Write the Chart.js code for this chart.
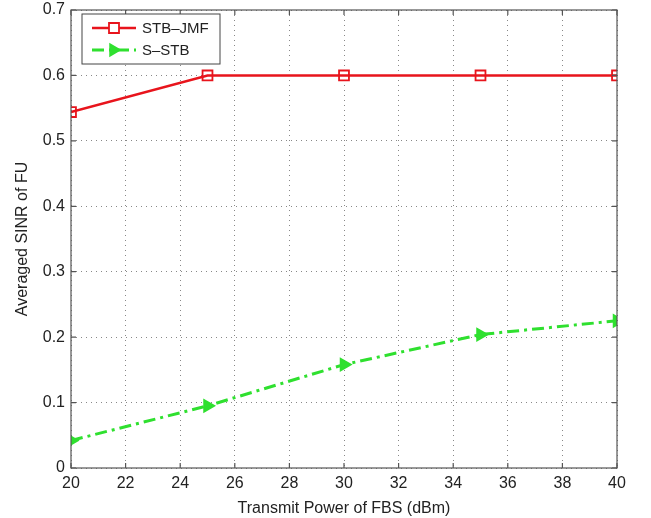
<!DOCTYPE html>
<html>
<head>
<meta charset="utf-8">
<script src="https://cdn.jsdelivr.net/npm/chart.js@4/dist/chart.umd.min.js"></script>
<style>
  html, body { margin: 0; padding: 0; background: #fff; }
  #wrap { width: 651px; height: 518px; }
</style>
</head>
<body>
<div id="wrap"><canvas id="sinrChart" width="651" height="518"></canvas></div>
<script>
// Dados
const potencias = [20, 25, 30, 35, 40];
const stbJmf   = [0.544, 0.600, 0.600, 0.600, 0.600];
const sStb     = [0.042, 0.095, 0.158, 0.204, 0.225];
const ticksX   = [20, 22, 24, 26, 28, 30, 32, 34, 36, 38, 40];
const ticksY   = [0, 0.1, 0.2, 0.3, 0.4, 0.5, 0.6, 0.7];

const FONTE = "'Liberation Sans', Arial, sans-serif";
const VERMELHO = '#e8141c';
const VERDE = '#2fe02f';

// Moldura, marcas de escala internas e legenda no estilo Matlab
const estiloMatlab = {
    id: 'estiloMatlab',
    afterDraw(chart) {
        const { ctx, chartArea: a, scales: { x, y } } = chart;
        ctx.save();
        ctx.strokeStyle = '#555';
        ctx.lineWidth = 1.2;
        ctx.strokeRect(a.left, a.top, a.right - a.left, a.bottom - a.top);
        ctx.beginPath();
        ticksX.forEach(v => {
            const px = x.getPixelForValue(v);
            ctx.moveTo(px, a.bottom); ctx.lineTo(px, a.bottom - 5);
            ctx.moveTo(px, a.top); ctx.lineTo(px, a.top + 5);
        });
        ticksY.forEach(v => {
            const py = y.getPixelForValue(v);
            ctx.moveTo(a.left, py); ctx.lineTo(a.left + 5, py);
            ctx.moveTo(a.right, py); ctx.lineTo(a.right - 5, py);
        });
        ctx.stroke();

        // legenda
        const lx = a.left + 11, ly = a.top + 4, lw = 138, lh = 50;
        ctx.fillStyle = '#fff';
        ctx.fillRect(lx, ly, lw, lh);
        ctx.strokeStyle = '#444';
        ctx.lineWidth = 1;
        ctx.strokeRect(lx, ly, lw, lh);
        ctx.font = '15px ' + FONTE;
        ctx.textBaseline = 'middle';
        chart.data.datasets.forEach((ds, i) => {
            const cy = ly + 14 + i * 22;
            ctx.strokeStyle = ds.borderColor;
            ctx.lineWidth = ds.borderWidth;
            ctx.setLineDash(ds.borderDash || []);
            ctx.beginPath();
            ctx.moveTo(lx + 10, cy); ctx.lineTo(lx + 54, cy);
            ctx.stroke();
            ctx.setLineDash([]);
            ctx.fillStyle = ds.pointBackgroundColor;
            ctx.strokeStyle = ds.borderColor;
            ctx.lineWidth = ds.pointBorderWidth;
            ctx.beginPath();
            if (ds.pointStyle === 'rect') {
                ctx.fillStyle = '#fff';
                ctx.rect(lx + 32 - 5, cy - 5, 10, 10);
                ctx.fill(); ctx.stroke();
            } else {
                ctx.moveTo(lx + 38, cy); ctx.lineTo(lx + 28, cy - 6); ctx.lineTo(lx + 28, cy + 6);
                ctx.closePath(); ctx.fill(); ctx.stroke();
            }
            ctx.fillStyle = '#222';
            ctx.fillText(ds.label, lx + 60, cy + 1);
        });
        ctx.restore();
    }
};

new Chart(document.getElementById('sinrChart').getContext('2d'), {
    type: 'line',
    data: {
        datasets: [
            {
                label: 'STB\u2013JMF',
                data: potencias.map((p, i) => ({ x: p, y: stbJmf[i] })),
                borderColor: VERMELHO,
                borderWidth: 2.5,
                pointStyle: 'rect',
                pointRadius: 7,
                pointBorderWidth: 1.8,
                pointBackgroundColor: 'rgba(255,255,255,0)',
                pointBorderColor: VERMELHO,
                tension: 0
            },
            {
                label: 'S\u2013STB',
                data: potencias.map((p, i) => ({ x: p, y: sStb[i] })),
                borderColor: VERDE,
                borderWidth: 3,
                borderDash: [12, 5, 3, 5],
                pointStyle: 'triangle',
                pointRotation: 90,
                pointRadius: 7,
                pointBorderWidth: 1.5,
                pointBackgroundColor: VERDE,
                pointBorderColor: VERDE,
                tension: 0
            }
        ]
    },
    options: {
        responsive: false,
        animation: false,
        layout: { padding: { top: 10, right: 34, left: 0, bottom: 0 } },
        plugins: { legend: { display: false }, tooltip: { enabled: false } },
        scales: {
            x: {
                type: 'linear',
                min: 20, max: 40,
                afterBuildTicks: s => { s.ticks = ticksX.map(v => ({ value: v })); },
                afterFit: s => { s.height = 50; },
                grid: { color: '#888', lineWidth: 1, drawTicks: false },
                border: { display: false, dash: [1, 4] },
                ticks: { font: { size: 16, family: FONTE }, color: '#222', padding: 6, maxRotation: 0 },
                title: {
                    display: true, text: 'Transmit Power of FBS (dBm)',
                    font: { size: 16, family: FONTE }, color: '#222', padding: { top: 0, bottom: 0 }
                }
            },
            y: {
                min: 0, max: 0.7,
                afterBuildTicks: s => { s.ticks = ticksY.map(v => ({ value: v })); },
                afterFit: s => { s.width = 71; s.paddingTop = 0; s.paddingBottom = 0; },
                grid: { color: '#888', lineWidth: 1, drawTicks: false },
                border: { display: false, dash: [1, 4] },
                ticks: {
                    font: { size: 16, family: FONTE }, color: '#222', padding: 6,
                    callback: v => String(Math.round(v * 10) / 10)
                },
                title: {
                    display: true, text: 'Averaged SINR of FU',
                    font: { size: 16, family: FONTE }, color: '#222', padding: { top: 13, bottom: 4 }
                }
            }
        }
    },
    plugins: [estiloMatlab]
});
</script>
</body>
</html>
